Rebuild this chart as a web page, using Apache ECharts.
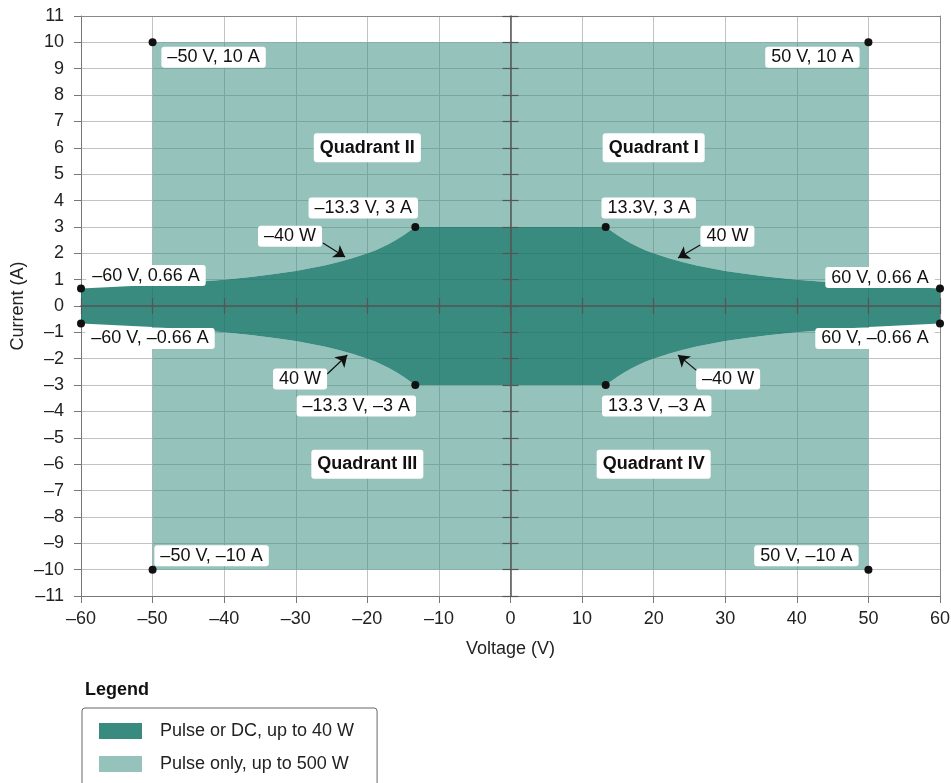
<!DOCTYPE html>
<html><head><meta charset="utf-8">
<script src="https://cdn.jsdelivr.net/npm/echarts@6/dist/echarts.min.js"></script>
<style>html,body{margin:0;padding:0;background:#fff}#c{width:951px;height:783px}</style>
</head><body><div id="c"></div>
<script>
// ---------- DATA ----------
const voltageRange = [-60, 60];
const currentRange = [-11, 11];
// 40 W boundary (Quadrant I)
const curveV = [13.3, 14, 15, 16, 17, 18, 19, 20, 22, 24, 26, 28, 30, 33, 36, 40, 45, 50, 55, 60];
const curveI = [3.0, 2.86, 2.67, 2.5, 2.35, 2.22, 2.1, 2.0, 1.82, 1.67, 1.54, 1.43, 1.33, 1.21, 1.11, 1.0, 0.89, 0.8, 0.73, 0.66];
// Pulse-only envelope
const pulseV = [-50, 50];
const pulseI = [-10, 10];
// Corner points
const cornerV = [-50, 50, -60, 60, -60, 60, -13.3, 13.3, -13.3, 13.3, -50, 50];
const cornerI = [10, 10, 0.66, 0.66, -0.66, -0.66, 3, 3, -3, -3, -10, -10];
const cornerText = ['–50 V, 10 A', '50 V, 10 A', '–60 V, 0.66 A', '60 V, 0.66 A', '–60 V, –0.66 A', '60 V, –0.66 A',
  '–13.3 V, 3 A', '13.3V, 3 A', '–13.3 V, –3 A', '13.3 V, –3 A', '–50 V, –10 A', '50 V, –10 A'];
// Quadrant labels
const quadV = [-20, 20, -20, 20];
const quadI = [6, 6, -6, -6];
const quadText = ['Quadrant II', 'Quadrant I', 'Quadrant III', 'Quadrant IV'];
// Power labels and arrows
const wattV = [-30.8, 30.3, -29.4, 30.4];
const wattI = [2.65, 2.65, -2.77, -2.77];
const wattText = ['–40 W', '40 W', '40 W', '–40 W'];
const arrowTail = [[-26.2, 2.39], [26.5, 2.31], [-25.6, -2.58], [26.1, -2.47]];
const arrowTip = [[-23.1, 1.86], [23.4, 1.82], [-22.8, -1.86], [23.4, -1.86]];
const seriesNames = ['Pulse or DC, up to 40 W', 'Pulse only, up to 500 W'];

// ---------- STYLE ----------
const FONT = '"Liberation Sans", Arial, Helvetica, sans-serif';
const FS = 18;
const darkColor = 'rgba(22,119,106,0.85)';
const lightColor = 'rgba(62,146,131,0.55)';
const cornerOffsets = [[61,15],[-56,15],[65,-13],[-60,-11],[69,15],[-65,15],[-52,-19],[43,-19],[-59,21],[51,21],[59,-14],[-62,-14]];
const dash = v => String(v).replace('-', '–');

// ---------- BUILD POLYGONS ----------
const n = curveV.length;
const upper = [], lower = [];
for (let k = n - 1; k >= 0; k--) upper.push([-curveV[k], curveI[k]]);
for (let k = 0; k < n; k++) upper.push([curveV[k], curveI[k]]);
for (let k = n - 1; k >= 0; k--) lower.push([curveV[k], -curveI[k]]);
for (let k = 0; k < n; k++) lower.push([-curveV[k], -curveI[k]]);
const darkPoly = upper.concat(lower);

const inPulse = [];
for (let k = 0; k < n; k++) if (curveV[k] <= pulseV[1]) inPulse.push(k);
const lightTop = [[pulseV[0], pulseI[1]], [pulseV[1], pulseI[1]]];
for (let j = inPulse.length - 1; j >= 0; j--) lightTop.push([curveV[inPulse[j]], curveI[inPulse[j]]]);
for (let j = 0; j < inPulse.length; j++) lightTop.push([-curveV[inPulse[j]], curveI[inPulse[j]]]);
const lightBottom = lightTop.map(p => [p[0], -p[1]]);

function polySeries(name, polys, color, z) {
  return {
    type: 'custom', name, coordinateSystem: 'cartesian2d', xAxisIndex: 0, yAxisIndex: 0, z,
    silent: true, data: [[0, 0]], itemStyle: { color },
    renderItem: (params, api) => ({
      type: 'group',
      children: polys.map(p => ({ type: 'polygon', shape: { points: p.map(pt => api.coord(pt)) }, style: { fill: color } }))
    })
  };
}

const labelBase = { show: true, position: 'inside', color: '#111', fontFamily: FONT, fontSize: FS,
  backgroundColor: '#fff', padding: [2, 6, 1, 6], borderRadius: 3 };

const baseValAxis = (range, step) => ({ type: 'value', min: range[0], max: range[1], interval: step });

const xAxes = [
  Object.assign(baseValAxis(voltageRange, 10), {
    position: 'bottom', name: 'Voltage (V)', nameLocation: 'middle', nameGap: 44,
    nameTextStyle: { fontFamily: FONT, fontSize: FS, color: '#222' },
    axisLine: { onZero: false, lineStyle: { color: '#777', width: 1 } },
    axisTick: { show: true, length: 7, lineStyle: { color: '#777' } },
    axisLabel: { formatter: dash, fontFamily: FONT, fontSize: FS, color: '#222', margin: 14 },
    splitLine: { show: true, lineStyle: { color: '#c2c2c2', width: 1 } }
  }),
  Object.assign(baseValAxis(voltageRange, 10), {
    position: 'bottom', z: 10,
    axisLine: { onZero: true, lineStyle: { color: '#555', width: 1.5 } },
    axisTick: { show: true, inside: true, length: 8, lineStyle: { color: '#555', width: 1.2 } },
    axisLabel: { show: false }, splitLine: { show: false }
  }),
  Object.assign(baseValAxis(voltageRange, 10), {
    position: 'bottom', z: 10,
    axisLine: { show: false, onZero: true },
    axisTick: { show: true, inside: false, length: 8, lineStyle: { color: '#555', width: 1.2 } },
    axisLabel: { show: false }, splitLine: { show: false }
  }),
  Object.assign(baseValAxis(voltageRange, 10), {
    position: 'top', axisLine: { onZero: false, lineStyle: { color: '#888' } },
    axisTick: { show: false }, axisLabel: { show: false }, splitLine: { show: false }
  })
];
const yAxes = [
  Object.assign(baseValAxis(currentRange, 1), {
    position: 'left', name: 'Current (A)', nameLocation: 'middle', nameGap: 54, nameMoveOverlap: false,
    nameTextStyle: { fontFamily: FONT, fontSize: FS, color: '#222' },
    axisLine: { onZero: false, lineStyle: { color: '#777', width: 1 } },
    axisTick: { show: true, length: 7, lineStyle: { color: '#777' } },
    axisLabel: { formatter: dash, fontFamily: FONT, fontSize: FS, color: '#222', margin: 17 },
    splitLine: { show: true, lineStyle: { color: '#c2c2c2', width: 1 } }
  }),
  Object.assign(baseValAxis(currentRange, 1), {
    position: 'left', z: 10,
    axisLine: { onZero: true, lineStyle: { color: '#555', width: 1.5 } },
    axisTick: { show: true, inside: true, length: 8, lineStyle: { color: '#555', width: 1.2 } },
    axisLabel: { show: false }, splitLine: { show: false }
  }),
  Object.assign(baseValAxis(currentRange, 1), {
    position: 'left', z: 10,
    axisLine: { show: false, onZero: true },
    axisTick: { show: true, inside: false, length: 8, lineStyle: { color: '#555', width: 1.2 } },
    axisLabel: { show: false }, splitLine: { show: false }
  }),
  Object.assign(baseValAxis(currentRange, 1), {
    position: 'right', axisLine: { onZero: false, lineStyle: { color: '#888' } },
    axisTick: { show: false }, axisLabel: { show: false }, splitLine: { show: false }
  })
];

const option = {
  animation: false,
  backgroundColor: '#fff',
  textStyle: { fontFamily: FONT },
  grid: { left: 81, right: 11, top: 16, bottom: 187, containLabel: false, outerBoundsMode: 'none' },
  title: { text: 'Legend', left: 80, top: 676, textStyle: { fontFamily: FONT, fontSize: FS, fontWeight: 'bold', color: '#111' } },
  legend: {
    data: seriesNames, orient: 'vertical', left: 82, top: 708, height: 200,
    padding: [14, 23, 30, 17], itemGap: 15, itemWidth: 43, itemHeight: 16, icon: 'rect',
    borderColor: '#666', borderWidth: 1, borderRadius: 3, selectedMode: false,
    textStyle: { fontFamily: FONT, fontSize: FS, color: '#222', padding: [0, 0, 0, 13] }
  },
  xAxis: xAxes,
  yAxis: yAxes,
  series: [
    polySeries(seriesNames[1], [lightTop, lightBottom], lightColor, 2),
    polySeries(seriesNames[0], [darkPoly], darkColor, 3),
    {
      type: 'lines', coordinateSystem: 'cartesian2d', z: 20, silent: true,
      symbol: ['none', 'arrow'], symbolSize: [8, 11],
      lineStyle: { color: '#111', width: 1.2, opacity: 1 },
      data: arrowTail.map((t, k) => ({ coords: [t, arrowTip[k]] }))
    },
    {
      type: 'scatter', z: 21, silent: true, symbolSize: 0, itemStyle: { opacity: 1 },
      data: wattV.map((v, k) => ({ value: [v, wattI[k]], label: Object.assign({}, labelBase, { formatter: wattText[k] }) }))
    },
    {
      type: 'scatter', z: 21, silent: true, symbolSize: 0, itemStyle: { opacity: 1 },
      data: quadV.map((v, k) => ({ value: [v, quadI[k]], label: Object.assign({}, labelBase, { formatter: quadText[k], fontWeight: 'bold', padding: [6, 6, 5, 6] }) }))
    },
    {
      type: 'scatter', z: 22, silent: true, symbolSize: 8, itemStyle: { color: '#111', opacity: 1 },
      data: cornerV.map((v, k) => ({ value: [v, cornerI[k]], label: Object.assign({}, labelBase, { formatter: cornerText[k], offset: cornerOffsets[k] }) }))
    }
  ]
};
const chart = echarts.init(document.getElementById('c'), null, { renderer: 'canvas' });
chart.setOption(option);
</script></body></html>
